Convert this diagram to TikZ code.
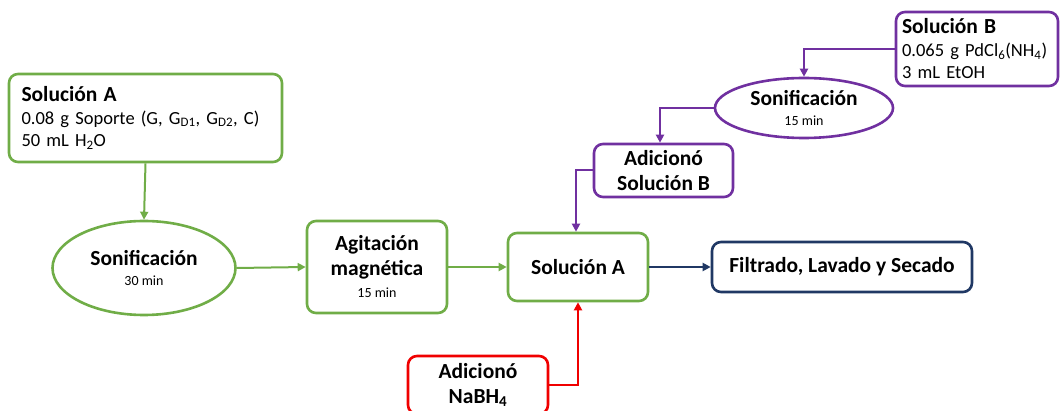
\documentclass[tikz,border=0pt]{standalone}
\usepackage{fontspec}
\setmainfont{Carlito}
\usetikzlibrary{arrows.meta,shapes.geometric}
\definecolor{cgreen}{RGB}{112,173,71}
\definecolor{cpurple}{RGB}{112,48,160}
\definecolor{cnavy}{RGB}{32,56,100}
\definecolor{cred}{RGB}{240,0,0}
\newcommand{\bt}{\bfseries\fontsize{21.5}{25}\selectfont}
\newcommand{\bd}{\mdseries\fontsize{18.5}{22.5}\selectfont}
\newcommand{\sm}{\mdseries\fontsize{14}{20}\selectfont}
\tikzset{
  box/.style={draw, line width=2.6pt, rounded corners=9pt, inner sep=0pt},
  ell/.style={draw, ellipse, line width=2.6pt, inner sep=0pt},
  conn/.style={line width=2pt, -{Triangle[length=8pt,width=8pt]}},
  ttl/.style={font=\bt},
}
\begin{document}
\begin{tikzpicture}[x=1pt,y=-1pt]
\useasboundingbox (0,0) rectangle (1060,411);
\clip (0,0) rectangle (1060,411);
% green chain
\node[box, draw=cgreen, minimum width=273pt, minimum height=88pt, text width=248pt, align=left,
  font=\bd] (solA0) at (145.5,118)
  {{\bt Solución A}\\0.08 g Soporte (G, G\textsubscript{D1}, G\textsubscript{D2}, C)\\50 mL H\textsubscript{2}O};
\node[ell, draw=cgreen, minimum width=183pt, minimum height=94pt, align=center, font=\sm] (son1) at (144,268)
  {{\bt Sonificación}\\30 min};
\node[box, draw=cgreen, minimum width=140pt, minimum height=92pt, align=center,
  font=\bt] (agit) at (377,267)
  {Agitación\\magnética\\[-3pt]{\sm 15 min}};
\node[box, draw=cgreen, minimum width=140pt, minimum height=68pt, ttl] (solA) at (578,267) {Solución A};
\node[box, draw=cnavy, minimum width=260pt, minimum height=50pt, ttl] (filt) at (842,267) {Filtrado, Lavado y Secado};
\node[box, draw=cred, minimum width=140pt, minimum height=58pt, align=center, font=\bt] (nabh) at (478,385)
  {Adicionó\\NaBH\textsubscript{4}};
% purple chain
\node[box, draw=cpurple, minimum width=162pt, minimum height=74pt, text width=150pt, align=left,
  font=\bd] (solB) at (977,49)
  {{\bt Solución B}\\0.065 g PdCl\textsubscript{6}(NH\textsubscript{4})\\3 mL EtOH};
\node[ell, draw=cpurple, minimum width=178pt, minimum height=60pt, align=center, font=\sm] (son2) at (804,108)
  {{\bt Sonificación}\\15 min};
\node[box, draw=cpurple, minimum width=139pt, minimum height=53pt, align=center, font=\bt] (adB) at (663.5,170.5)
  {Adicionó\\Solución B};
% connectors
\draw[conn, cgreen] (solA0.south) -- (son1.north);
\draw[conn, cgreen] (son1.east) -- (agit.west);
\draw[conn, cgreen] (agit.east) -- (solA.west);
\draw[conn, cnavy] (solA.east) -- (filt.west);
\draw[conn, cred] (nabh.east) -| (solA.south);
\draw[conn, cpurple] (solB.west) -| (son2.north);
\draw[conn, cpurple] (son2.west) -| ([xshift=-3.5pt]adB.north);
\draw[conn, cpurple] (adB.west) -| ([xshift=-2pt]solA.north);
\end{tikzpicture}
\end{document}
